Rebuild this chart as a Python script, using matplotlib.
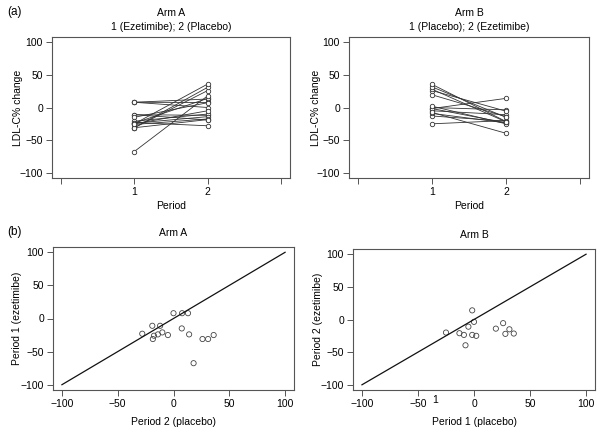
import matplotlib
matplotlib.use('Agg')
import matplotlib.pyplot as plt

# Per-subject LDL-C % change
armA_ezetimibe = [8, 8, 8, -11, -11, -15, -23, -21, -24, -26, -25, -24, -31, -31, -31, -25, -67.5]   # period 1
armA_placebo   = [0, 7.7, 13, -19, -12, 7.4, -28, -10, -14, -17.5, -5, 14, -18.5, 26, 31, 36, 18]   # period 2
armB_placebo   = [-1.6, 0, -5, -25, -13, -9, -1.6, 2, -7.6, 19.5, 26, 28, 31.6, 35.5]               # period 1
armB_ezetimibe = [14, -3.6, -11, -20, -21, -23.6, -23.6, -25, -39.5, -14, -5.6, -22, -15, -21.5]     # period 2

ticks_val = [-100, -50, 0, 50, 100]
period_ticks = [0, 1, 2, 3]
period_labels = ['', '1', '2', '']

plt.rcParams['font.family'] = ['Liberation Sans', 'DejaVu Sans']
plt.rcParams['font.size'] = 7.5
W, H = 601, 432
fig = plt.figure(figsize=(W / 100, H / 100), dpi=100)

BOX = '#555555'
LINE = '#333333'


def px_axes(left, right, top, bottom):
    ax = fig.add_axes([left / W, (H - bottom) / H, (right - left) / W, (bottom - top) / H])
    ax._px = (left, right, top, bottom)
    return ax


def place_labels(ax, ylab_x, xlab_y):
    # put axis labels at given pixel positions (figure coords from top-left)
    left, right, top, bottom = ax._px
    ax.yaxis.set_label_coords((ylab_x - left) / (right - left), 0.5)
    ax.xaxis.set_label_coords(0.5, (bottom - xlab_y) / (bottom - top))
    ax.yaxis.label.set_va('center')
    ax.xaxis.label.set_va('center')


def style(ax):
    for s in ax.spines.values():
        s.set_color(BOX)
        s.set_linewidth(0.8)
    ax.tick_params(direction='out', length=4, width=0.7, color=BOX, pad=2.5, labelsize=7.5)


def profile(ax, p1, p2, title, subtitle):
    for a, b in zip(p1, p2):
        ax.plot([1, 2], [a, b], color=LINE, lw=0.6, marker='o', ms=3.2,
                mfc='white', mec=LINE, mew=0.6)
    ax.set_xlim(-0.12, 3.12)
    ax.set_ylim(-108, 108)
    ax.set_xticks(period_ticks)
    ax.set_xticklabels(period_labels)
    ax.set_yticks(ticks_val)
    ax.set_xlabel('Period')
    ax.set_ylabel('LDL-C% change')
    ax.set_title(title + '\n' + subtitle, fontsize=7.5, pad=5, linespacing=1.5)
    style(ax)


def scatter(ax, x, y, title, xlabel, ylabel):
    ax.plot([-100, 100], [-100, 100], color='#111111', lw=0.9)
    ax.scatter(x, y, s=14, facecolors='none', edgecolors='#444444', linewidths=0.6)
    ax.set_xlim(-108, 108)
    ax.set_ylim(-108, 108)
    ax.set_xticks(ticks_val)
    ax.set_yticks(ticks_val)
    ax.set_xlabel(xlabel)
    ax.set_ylabel(ylabel)
    ax.set_title(title, fontsize=7.5, pad=8)
    style(ax)


ax1 = px_axes(52, 290, 37, 178)
profile(ax1, armA_ezetimibe, armA_placebo, 'Arm A', '1 (Ezetimibe); 2 (Placebo)')
place_labels(ax1, 18, 206)
ax2 = px_axes(349, 589, 37, 178)
profile(ax2, armB_placebo, armB_ezetimibe, 'Arm B', '1 (Placebo); 2 (Ezetimibe)')
place_labels(ax2, 316, 206)

ax3 = px_axes(53, 294, 247, 390)
scatter(ax3, armA_placebo, armA_ezetimibe, 'Arm A', 'Period 2 (placebo)', 'Period 1 (ezetimibe)')
place_labels(ax3, 17, 422)
ax4 = px_axes(353, 595, 249, 390)
scatter(ax4, armB_placebo, armB_ezetimibe, 'Arm B', 'Period 1 (placebo)', 'Period 2 (ezetimibe)')
place_labels(ax4, 318, 422)
# stray label present in the original figure
ax4.text(-34.5, -115, '1', ha='center', va='top', fontsize=7.5)

fig.text(7 / W, 1 - 12 / H, '(a)', fontsize=8.5, va='center', ha='left')
fig.text(7 / W, 1 - 232 / H, '(b)', fontsize=8.5, va='center', ha='left')

fig.savefig('out.png', dpi=100)
